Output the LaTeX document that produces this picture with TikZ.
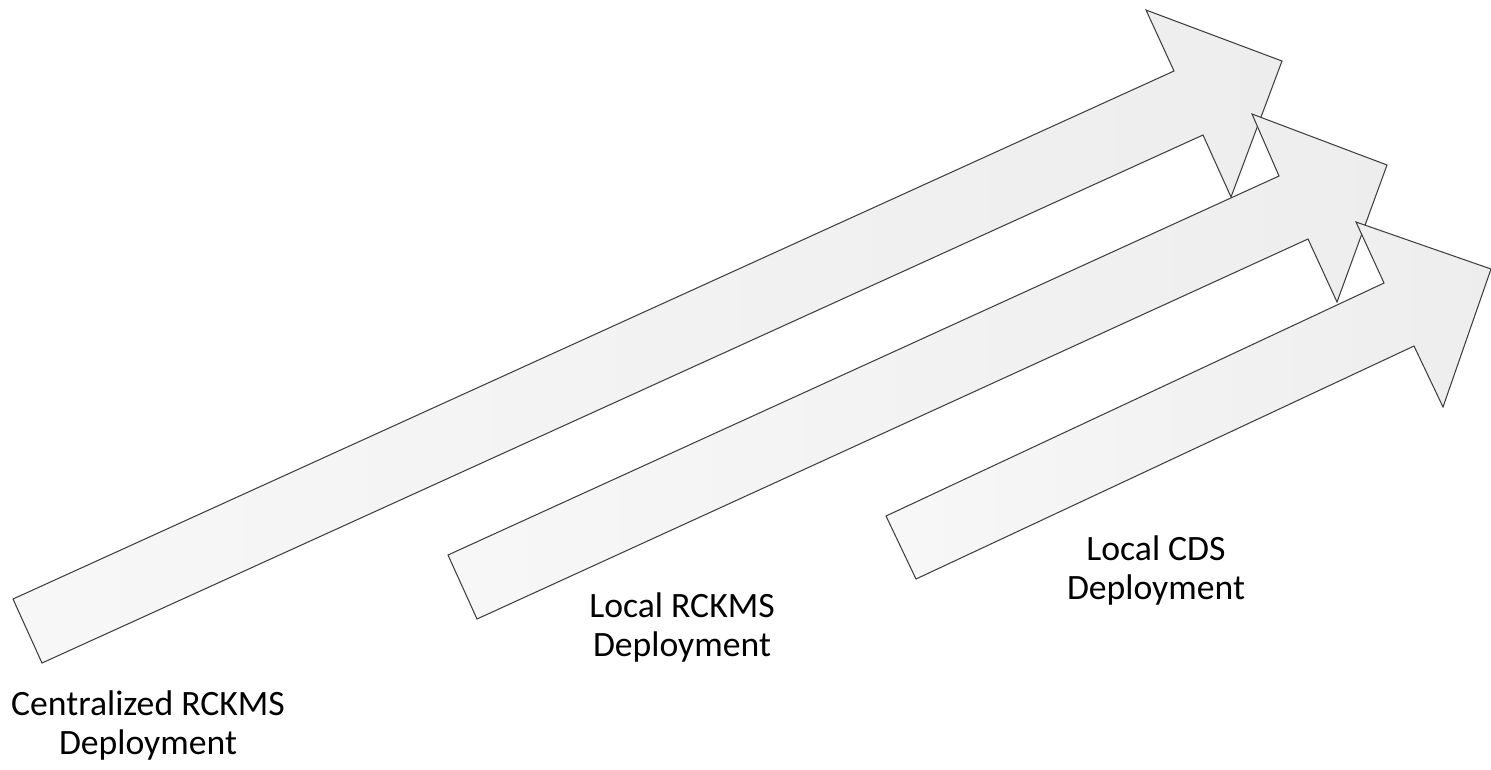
\documentclass[tikz,border=0pt]{standalone}
\usepackage{fontspec}
\setmainfont{Carlito}

\begin{document}
\begin{tikzpicture}
  [x=0.02cm,y=-0.02cm,
   blockarrow/.style={draw=black!75,line width=0.6pt,line join=miter,
     left color=black!3,right color=black!7},
   deploytext/.style={align=center,anchor=north,inner sep=0pt,
     font=\fontsize{20.3}{22.6}\selectfont}]
  \useasboundingbox (0,0) rectangle (1491,769);
  % centralized
  \draw[blockarrow] (13,599) -- (1174,71) -- (1146,10) -- (1282,61)
    -- (1231,197) -- (1203,135) -- (42,663) -- cycle;
  % local rckms
  \draw[blockarrow] (448,555) -- (1279,176) -- (1252,114) -- (1387,165)
    -- (1337,302) -- (1308,239) -- (477,619) -- cycle;
  % local cds
  \draw[blockarrow] (886,516) -- (1384,283) -- (1356,222) -- (1491,269)
    -- (1443,407) -- (1414,346) -- (916,579) -- cycle;
  \node[deploytext] (central) at (148,690) {Centralized RCKMS\\Deployment};
  \node[deploytext] (rckms) at (682,592) {Local RCKMS\\Deployment};
  \node[deploytext] (cds) at (1156,535) {Local CDS\\Deployment};
\end{tikzpicture}
\end{document}
